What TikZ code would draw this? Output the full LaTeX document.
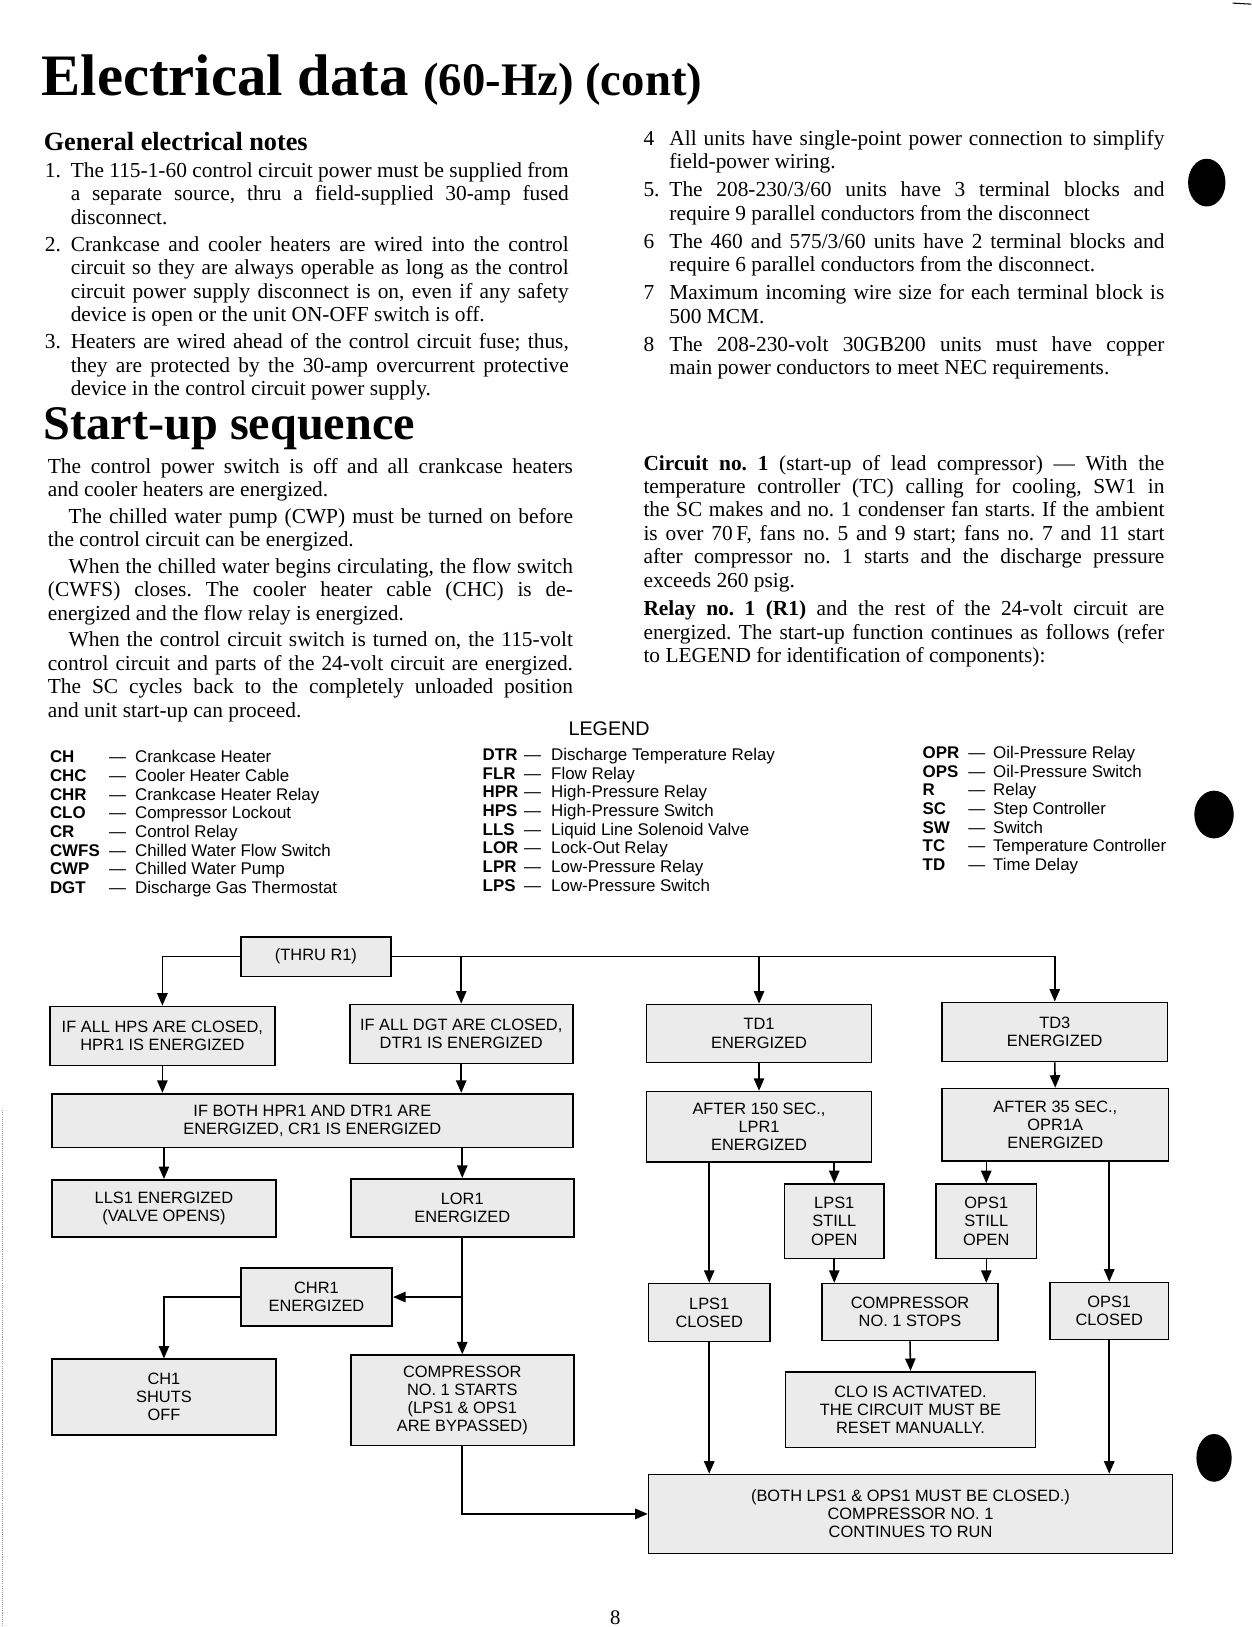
\documentclass[tikz,border=0pt]{standalone}
\usepackage{fontspec}
\setmainfont{Liberation Serif}
\newfontfamily\chartfont{Liberation Sans}
\usetikzlibrary{arrows.meta}
\frenchspacing

% one line of justified text, one closing line, one item number
\newcommand{\fullln}[1]{\hbox to\hsize{#1}}
\newcommand{\lastln}[1]{\hbox{#1}}
\newcommand{\itemno}[1]{\hbox to 25pt{#1\hfil}}

\tikzset{
  bodytext/.style={anchor=base west, inner sep=0pt, font=\fontsize{20.6}{22.6}\selectfont},
  legendtext/.style={anchor=base west, inner sep=0pt, font=\chartfont\fontsize{16.3}{18}\selectfont},
  flowbox/.style={draw, line width=1.6pt, fill=black!8, align=center, inner sep=0pt,
    font=\chartfont\fontsize{15.8}{17.5}\selectfont},
  flowline/.style={line width=1.5pt, -{Triangle[length=12pt,width=10pt]}},
  hole/.style={fill=black}
}

\begin{document}
\begin{tikzpicture}[x=1pt,y=-1pt]

        \fill[white] (0,0) rectangle (1206,1568);
        \useasboundingbox (0,0) rectangle (1206,1568);

        % Titolo e note
        \node[anchor=base west, inner sep=0pt] (title) at (40,92)
            {\fontsize{56.6}{60}\selectfont\bfseries Electrical data {\fontsize{45}{50}\selectfont(60-Hz) (cont)}};
        \node[anchor=base west, inner sep=0pt] (notehead) at (42,145)
            {\fontsize{25.3}{28}\selectfont\bfseries General electrical notes};

        \node[bodytext] (notesleft) at (43,171) {\vtop{\hsize=505pt
            \fullln{\itemno{1.}The 115-1-60 control circuit power must be supplied from}
            \fullln{\itemno{}a separate source, thru a field-supplied 30-amp fused}
            \lastln{\itemno{}disconnect.}
            \vskip3.5pt
            \fullln{\itemno{2.}Crankcase and cooler heaters are wired into the control}
            \fullln{\itemno{}circuit so they are always operable as long as the control}
            \fullln{\itemno{}circuit power supply disconnect is on, even if any safety}
            \lastln{\itemno{}device is open or the unit ON-OFF switch is off.}
            \vskip3.5pt
            \fullln{\itemno{3.}Heaters are wired ahead of the control circuit fuse; thus,}
            \fullln{\itemno{}they are protected by the 30-amp overcurrent protective}
            \lastln{\itemno{}device in the control circuit power supply.}}};

        \node[bodytext] (notesright) at (620,140) {\vtop{\hsize=502pt
            \fullln{\itemno{4}All units have single-point power connection to simplify}
            \lastln{\itemno{}field-power wiring.}
            \vskip4.4pt
            \fullln{\itemno{5.}The 208-230/3/60 units have 3 terminal blocks and}
            \lastln{\itemno{}require 9 parallel conductors from the disconnect}
            \vskip4.4pt
            \fullln{\itemno{6}The 460 and 575/3/60 units have 2 terminal blocks and}
            \lastln{\itemno{}require 6 parallel conductors from the disconnect.}
            \vskip4.4pt
            \fullln{\itemno{7}Maximum incoming wire size for each terminal block is}
            \lastln{\itemno{}500 MCM.}
            \vskip4.4pt
            \fullln{\itemno{8}The 208-230-volt 30GB200 units must have copper}
            \lastln{\itemno{}main power conductors to meet NEC requirements.}}};

        % Sequenza di avviamento
        \node[anchor=base west, inner sep=0pt] (starthead) at (42,424)
            {\fontsize{46.5}{50}\selectfont\bfseries Start-up sequence};

        \node[bodytext] (startup) at (46,456) {\vtop{\hsize=506pt
            \fullln{The control power switch is off and all crankcase heaters}
            \lastln{and cooler heaters are energized.}
            \vskip3pt
            \fullln{\hskip20pt The chilled water pump (CWP) must be turned on before}
            \lastln{the control circuit can be energized.}
            \vskip3pt
            \fullln{\hskip20pt When the chilled water begins circulating, the flow switch}
            \fullln{(CWFS) closes. The cooler heater cable (CHC) is de-}
            \lastln{energized and the flow relay is energized.}
            \vskip3pt
            \fullln{\hskip20pt When the control circuit switch is turned on, the 115-volt}
            \fullln{control circuit and parts of the 24-volt circuit are energized.}
            \fullln{The SC cycles back to the completely unloaded position}
            \lastln{and unit start-up can proceed.}}};

        \node[bodytext] (circuit) at (620,453) {\vtop{\hsize=502pt
            \fullln{\textbf{Circuit no. 1} (start-up of lead compressor) --- With the}
            \fullln{temperature controller (TC) calling for cooling, SW1 in}
            \fullln{the SC makes and no. 1 condenser fan starts. If the ambient}
            \fullln{is over 70\,F, fans no. 5 and 9 start; fans no. 7 and 11 start}
            \fullln{after compressor no. 1 starts and the discharge pressure}
            \lastln{exceeds 260 psig.}
            \vskip5pt
            \fullln{\textbf{Relay no. 1 (R1)} and the rest of the 24-volt circuit are}
            \fullln{energized. The start-up function continues as follows (refer}
            \lastln{to LEGEND for identification of components):}}};

        % Legenda
        \node[anchor=base, inner sep=0pt, font=\chartfont\fontsize{19}{22}\selectfont] (legendhead) at (587,709) {LEGEND};
        \node[legendtext] (legendA) at (48,735) {\begin{tabular}[t]{@{}p{57pt}@{}p{25pt}@{}l@{}}
            \textbf{CH} & \textemdash & Crankcase Heater\\
            \textbf{CHC} & \textemdash & Cooler Heater Cable\\
            \textbf{CHR} & \textemdash & Crankcase Heater Relay\\
            \textbf{CLO} & \textemdash & Compressor Lockout\\
            \textbf{CR} & \textemdash & Control Relay\\
            \textbf{CWFS} & \textemdash & Chilled Water Flow Switch\\
            \textbf{CWP} & \textemdash & Chilled Water Pump\\
            \textbf{DGT} & \textemdash & Discharge Gas Thermostat
        \end{tabular}};
        \node[legendtext] (legendB) at (465,733) {\begin{tabular}[t]{@{}p{40pt}@{}p{26pt}@{}l@{}}
            \textbf{DTR} & \textemdash & Discharge Temperature Relay\\
            \textbf{FLR} & \textemdash & Flow Relay\\
            \textbf{HPR} & \textemdash & High-Pressure Relay\\
            \textbf{HPS} & \textemdash & High-Pressure Switch\\
            \textbf{LLS} & \textemdash & Liquid Line Solenoid Valve\\
            \textbf{LOR} & \textemdash & Lock-Out Relay\\
            \textbf{LPR} & \textemdash & Low-Pressure Relay\\
            \textbf{LPS} & \textemdash & Low-Pressure Switch
        \end{tabular}};
        \node[legendtext] (legendC) at (889,731) {\begin{tabular}[t]{@{}p{44pt}@{}p{24pt}@{}l@{}}
            \textbf{OPR} & \textemdash & Oil-Pressure Relay\\
            \textbf{OPS} & \textemdash & Oil-Pressure Switch\\
            \textbf{R} & \textemdash & Relay\\
            \textbf{SC} & \textemdash & Step Controller\\
            \textbf{SW} & \textemdash & Switch\\
            \textbf{TC} & \textemdash & Temperature Controller\\
            \textbf{TD} & \textemdash & Time Delay
        \end{tabular}};

        % Diagramma di flusso: ramo sinistro
        \node[flowbox, minimum width=145pt, minimum height=38pt] (thru) at (304.5,922) {(THRU R1)};
        \node[flowbox, minimum width=217pt, minimum height=57pt] (hps) at (156.5,998.5) {IF ALL HPS ARE CLOSED,\\HPR1 IS ENERGIZED};
        \node[flowbox, minimum width=215pt, minimum height=57pt] (dgt) at (444.5,996.5) {IF ALL DGT ARE CLOSED,\\DTR1 IS ENERGIZED};
        \node[flowbox, minimum width=502pt, minimum height=52pt] (both) at (301,1080) {IF BOTH HPR1 AND DTR1 ARE\\ENERGIZED, CR1 IS ENERGIZED};
        \node[flowbox, minimum width=216pt, minimum height=55pt] (lls) at (158,1164.5) {LLS1 ENERGIZED\\(VALVE OPENS)};
        \node[flowbox, minimum width=215pt, minimum height=56pt] (lor) at (445.5,1164) {LOR1\\ENERGIZED};
        \node[flowbox, minimum width=146pt, minimum height=56pt] (chr) at (305,1250) {CHR1\\ENERGIZED};
        \node[flowbox, minimum width=216pt, minimum height=73pt] (ch) at (158,1346.5) {CH1\\SHUTS\\OFF};
        \node[flowbox, minimum width=215pt, minimum height=87pt] (comp) at (445.5,1349.5) {COMPRESSOR\\NO. 1 STARTS\\(LPS1 \& OPS1\\ARE BYPASSED)};

        % Diagramma di flusso: ramo destro
        \node[flowbox, minimum width=217pt, minimum height=56pt] (td1) at (731.5,996) {TD1\\ENERGIZED};
        \node[flowbox, minimum width=217pt, minimum height=57pt] (td3) at (1016.5,994.5) {TD3\\ENERGIZED};
        \node[flowbox, minimum width=217pt, minimum height=68pt] (a150) at (731.5,1086) {AFTER 150 SEC.,\\LPR1\\ENERGIZED};
        \node[flowbox, minimum width=218pt, minimum height=70pt] (a35) at (1017,1084) {AFTER 35 SEC.,\\OPR1A\\ENERGIZED};
        \node[flowbox, minimum width=96pt, minimum height=72pt] (lpss) at (804,1177) {LPS1\\STILL\\OPEN};
        \node[flowbox, minimum width=97pt, minimum height=72pt] (opss) at (950.5,1177) {OPS1\\STILL\\OPEN};
        \node[flowbox, minimum width=117pt, minimum height=56pt] (lpsc) at (683.5,1265) {LPS1\\CLOSED};
        \node[flowbox, minimum width=170pt, minimum height=55pt] (stops) at (877,1264.5) {COMPRESSOR\\NO. 1 STOPS};
        \node[flowbox, minimum width=114pt, minimum height=55pt] (opsc) at (1069,1263.5) {OPS1\\CLOSED};
        \node[flowbox, minimum width=241pt, minimum height=73pt] (clo) at (877.5,1358.5) {CLO IS ACTIVATED.\\THE CIRCUIT MUST BE\\RESET MANUALLY.};
        \node[flowbox, minimum width=505pt, minimum height=76pt] (final) at (877.5,1459) {(BOTH LPS1 \& OPS1 MUST BE CLOSED.)\\COMPRESSOR NO. 1\\CONTINUES TO RUN};

        % Collegamenti
        \draw[flowline] (thru.west) -| (hps.north);
        \draw[flowline] (thru.east) -| (td3.north);
        \draw[flowline] (thru.east -| dgt.north) -- (dgt.north);
        \draw[flowline] (thru.east -| td1.north) -- (td1.north);
        \draw[flowline] (hps.south) -- (hps.south |- both.north);
        \draw[flowline] (dgt.south) -- (dgt.south |- both.north);
        \draw[flowline] (both.south -| lls.north) -- (lls.north);
        \draw[flowline] (both.south -| lor.north) -- (lor.north);
        \draw[flowline] (lor.south) -- (comp.north);
        \draw[flowline] (lor.south |- chr.east) -- (chr.east);
        \draw[flowline] (chr.west) -| (ch.north);
        \draw[flowline] (comp.south) |- (final.west);
        \draw[flowline] (td1.south) -- (a150.north);
        \draw[flowline] (td3.south) -- (a35.north);
        \draw[flowline] (a150.south -| lpsc.north) -- (lpsc.north);
        \draw[flowline] (a150.south -| lpss.north) -- (lpss.north);
        \draw[flowline] (a35.south -| opss.north) -- (opss.north);
        \draw[flowline] (a35.south -| opsc.north) -- (opsc.north);
        \draw[flowline] (lpss.south) -- (lpss.south |- stops.north);
        \draw[flowline] (opss.south) -- (opss.south |- stops.north);
        \draw[flowline] (stops.south) -- (clo.north);
        \draw[flowline] (lpsc.south) -- (lpsc.south |- final.north);
        \draw[flowline] (opsc.south) -- (opsc.south |- final.north);

        % Numero di pagina, fori e bordi della scansione
        \node[anchor=base, inner sep=0pt, font=\fontsize{20}{24}\selectfont] (pagenum) at (593,1566) {8};
        \fill[hole] (1163,176) ellipse [x radius=18pt, y radius=23pt];
        \fill[hole] (1170,785) ellipse [x radius=19pt, y radius=23pt];
        \fill[hole] (1170,1405) ellipse [x radius=17pt, y radius=23pt];
        \draw[line width=1pt] (1188,3) -- (1206,4);
        \draw[black!40, densely dotted, line width=1pt] (2,1070) -- (2,1568);

\end{tikzpicture}
\end{document}
